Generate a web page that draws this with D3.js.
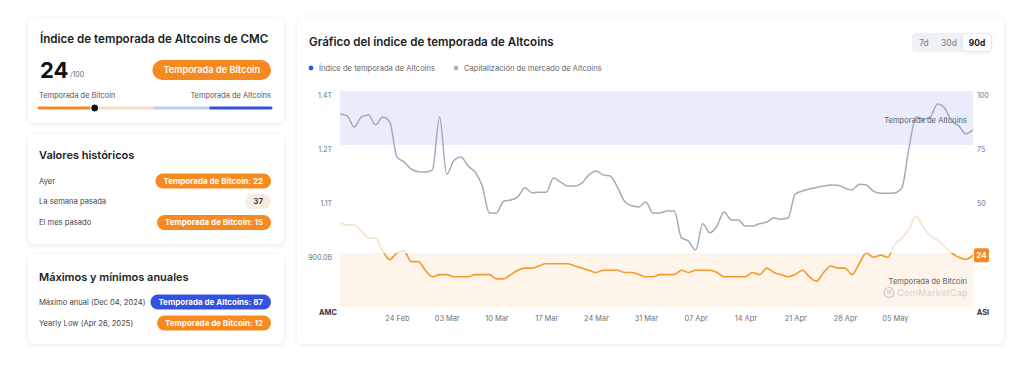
<!DOCTYPE html>
<html><head><meta charset="utf-8">
<script src="https://cdn.jsdelivr.net/npm/d3@7"></script>
<style>
html,body{margin:0;padding:0;background:#fff;}
svg{display:block;font-family:Inter,"Noto Sans",sans-serif;}
</style></head><body>
<svg id="c" width="1024" height="369"></svg>
<script>
// ---------- DATA ----------
const startDay = "2025-02-16";
const marketCapB = [1336,1331,1300,1328,1333,1306,1328,1314,1217,1203,
 1183,1176,1175,1181,1328,1169,1206,1217,1192,1175,
 1136,1061,1061,1094,1097,1106,1131,1117,1119,1119,
 1158,1147,1136,1136,1144,1167,1178,1167,1164,1133,
 1094,1081,1078,1092,1061,1061,1067,1067,992,983,
 958,1031,1006,1025,1064,1042,1042,1025,1025,1031,
 1036,1047,1044,1047,1114,1122,1128,1132,1136,1139,
 1138,1130,1125,1141,1139,1122,1116,1116,1117,1131,
 1242,1328,1322,1328,1364,1353,1317,1303,1281,1292];
const altIndex = [39,38,38,35,32,32,26,22,25,26,
 21,21,17,14,15,15,14,14,14,15,
 15,15,13,13,15,17,18,18,19,20,
 20,20,20,19,18,17,16,17,17,17,
 16,16,15,14,14,15,15,15,17,16,
 17,17,17,16,14,14,14,14,16,15,
 18,16,15,14,15,17,14,12,16,19,
 18,18,15,20,25,23,24,23,29,32,
 36,42,37,33,31,28,25,23,22,24];
const xTickDates = ["2025-02-24","2025-03-03","2025-03-10","2025-03-17","2025-03-24","2025-03-31","2025-04-07","2025-04-14","2025-04-21","2025-04-28","2025-05-05"];
const leftTickValues = [1400,1250,1100,950];
const leftTickLabels = ["1.4T","1.2T","1.1T","900.0B"];
const rightTickValues = [100,75,50];
const bandNames = ["Temporada de Altcoins","Temporada de Bitcoin"];
const bandFrom = [75,0];
const bandTo = [100,25];
const histLabels = ["Ayer","La semana pasada","El mes pasado"];
const histValues = [22,37,15];
const yearLabels = ["Máximo anual (Dec 04, 2024)","Yearly Low (Apr 26, 2025)"];
const yearValues = [87,12];
const rangeButtons = ["7d","30d","90d"];

// ---------- SETUP ----------
const svg = d3.select("#c");
const ORANGE = "#f6891f", BLUE = "#3452e1";
const defs = svg.append("defs");
const f = defs.append("filter").attr("id","sh").attr("x","-10%").attr("y","-10%").attr("width","120%").attr("height","130%");
f.append("feDropShadow").attr("dx",0).attr("dy",1).attr("stdDeviation",2.5).attr("flood-color","#000").attr("flood-opacity",0.09);

function card(x,y,w,h){svg.append("rect").attr("x",x).attr("y",y).attr("width",w).attr("height",h).attr("rx",6).attr("fill","#fff").attr("filter","url(#sh)");}
card(28,18,256,105);
card(28,134,256,110);
card(28,254,256,90);
card(297,17,707,327);

function pill(g,xRight,yMid,text,bg,fg,fs,h,padX,weight){
  const grp = g.append("g");
  const r = grp.append("rect");
  const t = grp.append("text").attr("x",xRight-padX).attr("y",yMid).attr("dy","0.35em")
    .attr("text-anchor","end").attr("font-size",fs).attr("font-weight",weight||700).attr("fill",fg).text(text);
  const w = t.node().getComputedTextLength()+padX*2;
  r.attr("x",xRight-w).attr("y",yMid-h/2).attr("width",w).attr("height",h).attr("rx",h/2).attr("fill",bg);
}

// ---------- CARD 1 ----------
const L = svg.append("g");
L.append("text").attr("x",40).attr("y",43).attr("font-size",11.6).attr("font-weight",600).attr("fill","#1a1d24").text("Índice de temporada de Altcoins de CMC");
const cur = altIndex[altIndex.length-1];
L.append("text").attr("x",40).attr("y",78).attr("font-size",22).attr("font-weight",700).attr("fill","#111").text(cur);
L.append("text").attr("x",70).attr("y",77).attr("font-size",7).attr("fill","#666").text("/100");
pill(L,271,70,"Temporada de Bitcoin",ORANGE,"#fff",9.2,20,11,600);
L.append("text").attr("x",39).attr("y",98).attr("font-size",7.4).attr("fill","#555").text("Temporada de Bitcoin");
L.append("text").attr("x",271).attr("y",98).attr("text-anchor","end").attr("font-size",7.4).attr("fill","#555").text("Temporada de Altcoins");
const sx = d3.scaleLinear().domain([0,100]).range([39,271]);
const segs = [[0,22,ORANGE],[25,50,"#f8dcc0"],[50,74,"#c3cbf3"],[74,100,BLUE]];
segs.forEach(s=>L.append("line").attr("x1",sx(s[0])).attr("x2",sx(s[1])).attr("y1",108).attr("y2",108).attr("stroke",s[2]).attr("stroke-width",3).attr("stroke-linecap","round"));
L.append("circle").attr("cx",sx(cur)).attr("cy",108).attr("r",4).attr("fill","#111").attr("stroke","#fff").attr("stroke-width",1);

// ---------- CARD 2 ----------
L.append("text").attr("x",39).attr("y",159).attr("font-size",11).attr("font-weight",600).attr("fill","#1a1d24").text("Valores históricos");
const hy = [181,201.5,222.5];
histLabels.forEach((lab,i)=>{
  L.append("text").attr("x",39).attr("y",hy[i]).attr("dy","0.35em").attr("font-size",7.6).attr("fill","#444").text(lab);
  const v = histValues[i];
  if(v<=25) pill(L,271,hy[i],"Temporada de Bitcoin: "+v,ORANGE,"#fff",8,15,8,700);
  else if(v>=75) pill(L,271,hy[i],"Temporada de Altcoins: "+v,BLUE,"#fff",8,15,8,700);
  else pill(L,271,hy[i],String(v),"#f6ece1","#333",8,15,8,600);
});

// ---------- CARD 3 ----------
L.append("text").attr("x",39).attr("y",281).attr("font-size",11).attr("font-weight",600).attr("fill","#1a1d24").text("Máximos y mínimos anuales");
const yy = [302,323];
yearLabels.forEach((lab,i)=>{
  L.append("text").attr("x",39).attr("y",yy[i]).attr("dy","0.35em").attr("font-size",7.6).attr("fill","#444").text(lab);
  const v = yearValues[i];
  if(v>=75) pill(L,271,yy[i],"Temporada de Altcoins: "+v,BLUE,"#fff",8,15,8,700);
  else pill(L,271,yy[i],"Temporada de Bitcoin: "+v,ORANGE,"#fff",8,15,8,700);
});

// ---------- MAIN CHART ----------
const C = svg.append("g");
C.append("text").attr("x",309).attr("y",46).attr("font-size",11.6).attr("font-weight",600).attr("fill","#1a1d24").text("Gráfico del índice de temporada de Altcoins");
// legend
C.append("circle").attr("cx",311).attr("cy",68).attr("r",2.4).attr("fill",BLUE);
C.append("text").attr("x",319).attr("y",68).attr("dy","0.35em").attr("font-size",7.6).attr("fill","#666").text("Índice de temporada de Altcoins");
C.append("circle").attr("cx",456).attr("cy",68).attr("r",2.2).attr("fill","#a7adb8");
C.append("text").attr("x",464).attr("y",68).attr("dy","0.35em").attr("font-size",7.6).attr("fill","#666").text("Capitalización de mercado de Altcoins");
// range buttons
C.append("rect").attr("x",912).attr("y",33).attr("width",80).attr("height",19).attr("rx",4).attr("fill","#eff1f5");
C.append("rect").attr("x",963).attr("y",34).attr("width",28).attr("height",17).attr("rx",3.5).attr("fill","#fff").attr("filter","url(#sh)");
const bx = [924,949,977];
rangeButtons.forEach((b,i)=>C.append("text").attr("x",bx[i]).attr("y",43).attr("dy","0.35em").attr("text-anchor","middle")
  .attr("font-size",8.4).attr("font-weight",i===2?700:500).attr("fill",i===2?"#111":"#7c8494").text(b));

const parse = d3.utcParse("%Y-%m-%d");
const d0 = parse(startDay);
const dates = altIndex.map((_,i)=>d3.utcDay.offset(d0,i));
const x = d3.scaleUtc().domain([dates[0],dates[dates.length-1]]).range([340,973]);
const yR = d3.scaleLinear().domain([0,100]).range([307,91]);
const yL = d3.scaleLinear().domain([800,1400]).range([307,91]);

// bands
const bandFill = ["#e8ecfb","#fef4e9"];
bandNames.forEach((n,i)=>{
  C.append("rect").attr("x",x.range()[0]).attr("width",x.range()[1]-x.range()[0])
    .attr("y",yR(bandTo[i])).attr("height",yR(bandFrom[i])-yR(bandTo[i])).attr("fill",bandFill[i]);
});

// market cap line
const lineL = d3.line().x((d,i)=>x(dates[i])).y(d=>yL(d)).curve(d3.curveMonotoneX);
C.append("path").attr("d",lineL(marketCapB)).attr("fill","none").attr("stroke","#a4aab6").attr("stroke-width",1.5);

// index line with threshold gradient
const gr = defs.append("linearGradient").attr("id","ig").attr("gradientUnits","userSpaceOnUse")
  .attr("x1",0).attr("x2",0).attr("y1",yR(100)).attr("y2",yR(0));
const th = (100-25)/100;
gr.append("stop").attr("offset",0).attr("stop-color","#f7e3cc");
gr.append("stop").attr("offset",th).attr("stop-color","#f7e3cc");
gr.append("stop").attr("offset",th).attr("stop-color","#f29a2e");
gr.append("stop").attr("offset",1).attr("stop-color","#f29a2e");
const lineR = d3.line().x((d,i)=>x(dates[i])).y(d=>yR(d)).curve(d3.curveMonotoneX);
C.append("path").attr("d",lineR(altIndex)).attr("fill","none").attr("stroke","url(#ig)").attr("stroke-width",1.6);

// band annotations
C.append("text").attr("x",967).attr("y",120).attr("dy","0.35em").attr("text-anchor","end").attr("font-size",7.6).attr("fill","#5a5f6a").text(bandNames[0]);
C.append("text").attr("x",967).attr("y",281).attr("dy","0.35em").attr("text-anchor","end").attr("font-size",7.6).attr("fill","#5a5f6a").text(bandNames[1]);
// watermark
C.append("circle").attr("cx",889).attr("cy",292.5).attr("r",5).attr("fill","none").attr("stroke","#c9ccd2").attr("stroke-width",1.2);
C.append("text").attr("x",889).attr("y",292.5).attr("dy","0.35em").attr("text-anchor","middle").attr("font-size",5.3).attr("font-weight",700).attr("fill","#c9ccd2").text("M");
C.append("text").attr("x",968).attr("y",293).attr("dy","0.35em").attr("text-anchor","end").attr("font-size",9).attr("fill","#cfd2d8").attr("letter-spacing",0.35).text("CoinMarketCap");

// axes
const xAxis = d3.axisBottom(x).tickValues(xTickDates.map(parse)).tickFormat(d3.utcFormat("%d %b")).tickSize(0).tickPadding(0);
const gx = C.append("g").attr("transform","translate(0,316)").call(xAxis);
gx.select(".domain").remove();
gx.selectAll("text").attr("font-size",7.4).attr("fill","#6b7280").attr("font-family","Inter");

const leftAxis = d3.axisLeft(yL).tickValues(leftTickValues).tickFormat((d,i)=>leftTickLabels[i]).tickSize(0).tickPadding(0);
const gl = C.append("g").attr("transform","translate(332,4)").call(leftAxis);
gl.select(".domain").remove();
gl.selectAll("text").attr("font-size",7).attr("fill","#6b7280").attr("font-family","Inter");

const rightAxis = d3.axisRight(yR).tickValues(rightTickValues).tickSize(0).tickPadding(0);
const gr2 = C.append("g").attr("transform","translate(977,4)").call(rightAxis);
gr2.select(".domain").remove();
gr2.selectAll("text").attr("font-size",7).attr("fill","#6b7280").attr("font-family","Inter");

C.append("text").attr("x",328).attr("y",312).attr("dy","0.35em").attr("text-anchor","middle").attr("font-size",7.4).attr("font-weight",700).attr("fill","#333").text("AMC");
C.append("text").attr("x",983).attr("y",312).attr("dy","0.35em").attr("text-anchor","middle").attr("font-size",7.4).attr("font-weight",700).attr("fill","#333").text("ASI");

// current value badge
C.append("rect").attr("x",974).attr("y",yR(cur)-7).attr("width",15).attr("height",14).attr("rx",2).attr("fill",ORANGE);
C.append("text").attr("x",981.5).attr("y",yR(cur)).attr("dy","0.35em").attr("text-anchor","middle").attr("font-size",8).attr("font-weight",700).attr("fill","#fff").text(cur);
</script>
</body></html>
